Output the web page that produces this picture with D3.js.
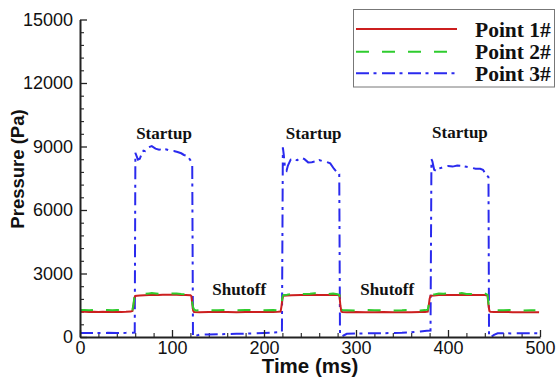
<!DOCTYPE html>
<html>
<head>
<meta charset="utf-8">
<script src="https://cdn.jsdelivr.net/npm/d3@7/dist/d3.min.js"></script>
<style>
  html, body { margin: 0; padding: 0; background: #fff; }
  svg { display: block; }
</style>
</head>
<body>
<svg id="chart" width="556" height="380"></svg>
<script>
// Pressure histories at three probe points over three startup/shutoff cycles
const p1Time = [0,5,10,15,20,25,30,35,40,45,50,55,57,58,59,60,62,65,70,75,80,85,90,95,100,105,110,115,120,121,122,123,124,130,140,150,160,170,180,190,200,210,215,218,219,220,221,225,230,240,250,260,270,275,280,282,283,284,285,290,300,310,320,330,340,350,360,370,375,378,379,380,381,385,390,400,410,420,430,440,443,444,445,446,450,460,470,480,490,499];
const p1Val  = [1190,1195,1185,1190,1180,1190,1185,1180,1190,1185,1190,1200,1230,1450,1800,1940,1950,1960,1975,1990,2000,1985,1995,2000,1995,2000,1990,1985,1975,1940,1600,1250,1180,1175,1180,1185,1180,1175,1180,1185,1180,1185,1190,1200,1450,1800,1950,1960,1975,1990,1995,1990,1985,1990,1980,1960,1500,1220,1180,1175,1180,1175,1170,1180,1175,1170,1175,1180,1185,1200,1450,1800,1950,1960,1980,1990,1985,1995,1990,1985,1960,1500,1230,1190,1185,1180,1175,1170,1175,1165];

const p2Time = [0,5,10,15,20,25,30,35,40,45,50,55,57,58,59,60,62,65,70,75,78,80,85,90,95,100,105,110,115,120,121,122,123,124,126,130,140,150,160,170,180,190,200,210,215,218,219,220,221,225,230,235,240,250,255,260,270,275,280,282,283,284,286,290,300,310,320,330,340,350,360,370,375,378,379,380,381,385,390,395,400,410,415,420,430,440,443,444,445,447,450,460,470,480,490,495];
const p2Val  = [1270,1280,1260,1275,1265,1280,1270,1260,1275,1270,1265,1270,1290,1500,1850,1980,1990,2010,2030,2060,2080,2070,2040,2030,2050,2060,2050,2030,2020,2000,1900,1600,1400,1300,1250,1265,1270,1260,1275,1265,1270,1280,1260,1270,1265,1280,1500,1850,1980,2000,2040,2070,2030,2040,2070,2050,2030,2060,2020,1990,1650,1320,1260,1265,1250,1280,1260,1270,1255,1260,1280,1250,1270,1290,1500,1850,1990,2010,2050,2040,2060,2040,2080,2030,2040,2060,1990,1600,1320,1260,1270,1260,1280,1250,1265,1260];

const p3Time = [0,10,20,30,40,50,59.5,60.2,61,63,65,67,69,71,74,78,82,86,90,94,98,102,106,110,113,116,118,120,121.3,122,122.8,124,126,130,140,150,160,170,180,190,200,210,219.5,220.5,221.5,223,224.5,226,229,232,236,240,244,248,252,256,260,264,268,272,276,279,281,281.8,282.6,284,286,290,300,310,320,330,340,350,360,370,377,381,382,383,385,387,389,392,396,400,405,410,415,420,425,430,435,438,441,443,444,444.6,447,450,454,460,470,480,490,500];
const p3Val  = [190,185,190,195,190,195,210,8700,8600,8380,8420,8650,8800,8780,8950,9020,8900,8850,8880,8860,8800,8790,8740,8680,8600,8560,8480,8350,8220,8100,80,20,60,110,120,130,140,150,160,170,190,210,230,8960,8600,7900,7850,8100,8380,8400,8350,8480,8400,8250,8260,8300,8360,8300,8270,8200,7950,7800,7760,7700,80,20,60,150,170,170,175,180,190,200,220,260,290,300,8400,8300,7900,7850,7950,7980,8050,8080,8050,8100,8080,8040,8000,7950,7950,7900,7700,7600,7550,0,0,100,175,175,170,175,180,175];

const seriesNames = ["Point 1#", "Point 2#", "Point 3#"];
const seriesColors = ["#cc1f1f", "#2ecc2e", "#2a2aee"];
const seriesDash = [null, "13,13", "13,4.5,3,5.5"];

const yTicks = [0, 3000, 6000, 9000, 12000, 15000];
const xTicks = [0, 100, 200, 300, 400, 500];

const eventLabels = [
  { text: "Startup", t: 91.3, p: 9370 },
  { text: "Startup", t: 254, p: 9370 },
  { text: "Startup", t: 413, p: 9400 },
  { text: "Shutoff", t: 173, p: 1990 },
  { text: "Shutoff", t: 334, p: 1990 }
];

const svg = d3.select("#chart");
const x = d3.scaleLinear().domain([0, 500]).range([80, 540]);
const y = d3.scaleLinear().domain([0, 15000]).range([337, 19.5]);

const sans = "'Liberation Sans', Arial, sans-serif";
const serif = "'Liberation Serif', 'Times New Roman', serif";

// clip to the plotting area
svg.append("clipPath").attr("id", "plotClip")
  .append("rect")
  .attr("x", x(0)).attr("y", y(15000))
  .attr("width", x(500) - x(0)).attr("height", y(0) - y(15000));

// minor ticks
const minorY = d3.range(0, 15001, 600).filter(v => v % 3000 !== 0);
const minorX = d3.range(0, 501, 20).filter(v => v % 100 !== 0);

svg.append("g")
  .attr("transform", `translate(${x(0)},0)`)
  .call(d3.axisLeft(y).tickValues(minorY).tickSize(-4).tickFormat(""))
  .call(g => g.select(".domain").remove())
  .call(g => g.selectAll("line").attr("stroke", "#222").attr("stroke-width", 1.1));

svg.append("g")
  .attr("transform", `translate(0,${y(0)})`)
  .call(d3.axisBottom(x).tickValues(minorX).tickSize(-4).tickFormat(""))
  .call(g => g.select(".domain").remove())
  .call(g => g.selectAll("line").attr("stroke", "#222").attr("stroke-width", 1.1));

// series lines
const p1 = p1Time.map((t, i) => [t, p1Val[i]]);
const p2 = p2Time.map((t, i) => [t, p2Val[i]]);
const p3 = p3Time.map((t, i) => [t, p3Val[i]]);
const series = [p1, p2, p3];

const line = d3.line().x(d => x(d[0])).y(d => y(d[1]));
const plot = svg.append("g").attr("clip-path", "url(#plotClip)");

// draw blue first so red/green sit on top
[2, 0, 1].forEach(i => {
  plot.append("path")
    .datum(series[i])
    .attr("fill", "none")
    .attr("stroke", seriesColors[i])
    .attr("stroke-width", 2)
    .attr("stroke-dasharray", seriesDash[i])
    .attr("d", line);
});

// major axes
svg.append("g")
  .attr("transform", `translate(${x(0)},0)`)
  .call(d3.axisLeft(y).tickValues(yTicks).tickSize(-7).tickSizeOuter(0).tickPadding(7).tickFormat(d3.format("d")))
  .call(g => g.select(".domain").attr("stroke", "#222").attr("stroke-width", 2))
  .call(g => g.selectAll(".tick line").attr("stroke", "#222").attr("stroke-width", 1.3))
  .call(g => g.selectAll("text").attr("fill", "#111").style("font-family", sans).style("font-size", "18px"));

svg.append("g")
  .attr("transform", `translate(0,${y(0)})`)
  .call(d3.axisBottom(x).tickValues(xTicks).tickSize(-7).tickSizeOuter(0).tickPadding(4))
  .call(g => g.select(".domain").attr("stroke", "#222").attr("stroke-width", 2))
  .call(g => g.selectAll(".tick line").attr("stroke", "#222").attr("stroke-width", 1.3))
  .call(g => g.selectAll("text").attr("fill", "#111").style("font-family", sans).style("font-size", "18px"));

// axis titles
svg.append("text")
  .attr("x", 310).attr("y", 373)
  .attr("text-anchor", "middle")
  .style("font-family", sans).style("font-weight", "bold").style("font-size", "20.5px")
  .attr("fill", "#111")
  .text("Time (ms)");

svg.append("text")
  .attr("transform", "translate(24,169) rotate(-90)")
  .attr("text-anchor", "middle")
  .style("font-family", sans).style("font-weight", "bold").style("font-size", "18.5px")
  .attr("fill", "#111")
  .text("Pressure (Pa)");

// event annotations
svg.append("g").selectAll("text")
  .data(eventLabels)
  .join("text")
  .attr("x", d => x(d.t)).attr("y", d => y(d.p))
  .attr("text-anchor", "middle")
  .style("font-family", serif).style("font-weight", "bold").style("font-size", "17px")
  .attr("fill", "#111")
  .text(d => d.text);

// legend
const legend = svg.append("g");
legend.append("rect")
  .attr("x", 353.5).attr("y", 9.5)
  .attr("width", 201).attr("height", 77.5)
  .attr("fill", "#fff").attr("stroke", "#777").attr("stroke-width", 1);

const legendRows = [29, 51.7, 73.3];
seriesNames.forEach((name, i) => {
  legend.append("line")
    .attr("x1", 356).attr("x2", 457)
    .attr("y1", legendRows[i]).attr("y2", legendRows[i])
    .attr("stroke", seriesColors[i]).attr("stroke-width", 2)
    .attr("stroke-dasharray", seriesDash[i]);
  legend.append("text")
    .attr("x", 475).attr("y", legendRows[i] + 7.5)
    .style("font-family", serif).style("font-weight", "bold").style("font-size", "21.5px")
    .attr("fill", "#111")
    .text(name);
});
</script>
</body>
</html>
